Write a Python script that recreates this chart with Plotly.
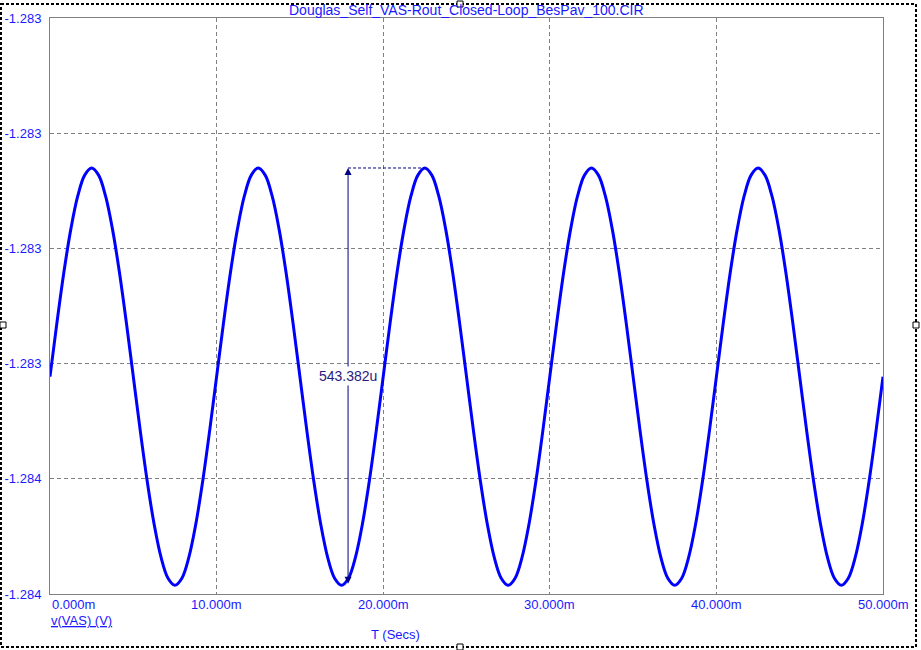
import plotly.graph_objects as go

# ---- data ----
# v(VAS) sampled at 121 points over 0..50 ms (volts)
v_vas = [
    -1.2834670, -1.2833967, -1.2833311, -1.2832749, -1.2832317, -1.2832046, -1.2831953, -1.2832046,
    -1.2832317, -1.2832749, -1.2833311, -1.2833967, -1.2834670, -1.2835373, -1.2836029, -1.2836591,
    -1.2837023, -1.2837294, -1.2837387, -1.2837294, -1.2837023, -1.2836591, -1.2836029, -1.2835373,
    -1.2834670, -1.2833967, -1.2833311, -1.2832749, -1.2832317, -1.2832046, -1.2831953, -1.2832046,
    -1.2832317, -1.2832749, -1.2833311, -1.2833967, -1.2834670, -1.2835373, -1.2836029, -1.2836591,
    -1.2837023, -1.2837294, -1.2837387, -1.2837294, -1.2837023, -1.2836591, -1.2836029, -1.2835373,
    -1.2834670, -1.2833967, -1.2833311, -1.2832749, -1.2832317, -1.2832046, -1.2831953, -1.2832046,
    -1.2832317, -1.2832749, -1.2833311, -1.2833967, -1.2834670, -1.2835373, -1.2836029, -1.2836591,
    -1.2837023, -1.2837294, -1.2837387, -1.2837294, -1.2837023, -1.2836591, -1.2836029, -1.2835373,
    -1.2834670, -1.2833967, -1.2833311, -1.2832749, -1.2832317, -1.2832046, -1.2831953, -1.2832046,
    -1.2832317, -1.2832749, -1.2833311, -1.2833967, -1.2834670, -1.2835373, -1.2836029, -1.2836591,
    -1.2837023, -1.2837294, -1.2837387, -1.2837294, -1.2837023, -1.2836591, -1.2836029, -1.2835373,
    -1.2834670, -1.2833967, -1.2833311, -1.2832749, -1.2832317, -1.2832046, -1.2831953, -1.2832046,
    -1.2832317, -1.2832749, -1.2833311, -1.2833967, -1.2834670, -1.2835373, -1.2836029, -1.2836591,
    -1.2837023, -1.2837294, -1.2837387, -1.2837294, -1.2837023, -1.2836591, -1.2836029, -1.2835373,
    -1.2834670,
]
t_end = 0.05
t_sec = [i * t_end / (len(v_vas) - 1) for i in range(len(v_vas))]

x_tick_vals = [0.0, 0.01, 0.02, 0.03, 0.04, 0.05]
x_tick_text = ["0.000m", "10.000m", "20.000m", "30.000m", "40.000m", "50.000m"]
y_tick_vals = [-1.28375, -1.2836, -1.28345, -1.2833, -1.28315, -1.283]
y_tick_text = ["-1.284", "-1.284", "-1.283", "-1.283", "-1.283", "-1.283"]

cursor_t = 0.01789
cursor_top = -1.2831953
cursor_bottom = -1.2837387
peak_t = 0.0225
cursor_label = "543.382u"

title_text = "Douglas_Self_VAS-Rout_Closed-Loop_BesPav_100.CIR"
y_name = "v(VAS) (V)"
x_name = "T (Secs)"

# ---- layout geometry ----
W, H = 921, 650
L, R, T, B = 50, 883, 18, 594
FONT = "Liberation Sans, Arial, sans-serif"
FS = 14
FST = 13
BLUE = "#1a1aff"
NAVY = "#000080"


def px(xp):
    return (xp - L) / (R - L)


def py(yp):
    return (B - yp) / (B - T)


fig = go.Figure()
fig.add_trace(go.Scatter(
    x=t_sec, y=v_vas, mode="lines",
    line=dict(color="#0000ff", width=3, shape="spline", smoothing=1),
    showlegend=False, hoverinfo="skip",
))

shapes = []
# cursor dashed horizontal to the peak
shapes.append(dict(type="line", xref="x", yref="y", x0=cursor_t, x1=peak_t,
                   y0=cursor_top, y1=cursor_top,
                   line=dict(color=NAVY, width=1, dash="3px,2px")))
# outer dashed border
shapes.append(dict(type="rect", xref="paper", yref="paper",
                   x0=px(1), x1=px(916), y0=py(4), y1=py(647),
                   line=dict(color="black", width=2, dash="3px,2px"), layer="above"))
# handles
for hx, hy in [(460, 4), (3, 325), (916, 325), (460, 647)]:
    shapes.append(dict(type="rect", xref="paper", yref="paper",
                       x0=px(hx - 3), x1=px(hx + 3), y0=py(hy - 3), y1=py(hy + 3),
                       fillcolor="white", line=dict(color="black", width=1), layer="above"))

annotations = []
# double headed arrow
annotations.append(dict(x=cursor_t, y=cursor_top, ax=cursor_t, ay=cursor_bottom,
                        xref="x", yref="y", axref="x", ayref="y", text="",
                        showarrow=True, arrowhead=2, startarrowhead=2, arrowside="end+start",
                        arrowsize=1.4, startarrowsize=1.4,
                        arrowwidth=1, arrowcolor=NAVY))
annotations.append(dict(x=cursor_t, y=-1.2834665, xref="x", yref="y", text=cursor_label,
                        showarrow=False, xanchor="center", yanchor="middle",
                        font=dict(family=FONT, size=FS, color="#2a1a80"),
                        bgcolor="white", borderpad=1))
# x tick labels
for v, s in zip(x_tick_vals, x_tick_text):
    annotations.append(dict(x=v, y=0, xref="x", yref="paper", text=s, showarrow=False,
                            xanchor="left" if v == 0 else "center", yanchor="top", yshift=-1,
                            font=dict(family=FONT, size=FST, color=BLUE)))
# title and axis names
annotations.append(dict(x=px(466), y=py(10), xref="paper", yref="paper", text=title_text,
                        showarrow=False, xanchor="center", yanchor="middle",
                        font=dict(family=FONT, size=FS, color=BLUE)))
annotations.append(dict(x=px(49), y=py(620), xref="paper", yref="paper", text="<u>" + y_name + "</u>",
                        showarrow=False, xanchor="left", yanchor="middle",
                        font=dict(family=FONT, size=FST, color=BLUE)))
annotations.append(dict(x=px(395), y=py(634), xref="paper", yref="paper", text=x_name,
                        showarrow=False, xanchor="center", yanchor="middle",
                        font=dict(family=FONT, size=FST, color=BLUE)))

fig.update_layout(
    width=W, height=H,
    margin=dict(l=L, r=W - R, t=T, b=H - B, pad=0, autoexpand=False),
    paper_bgcolor="white", plot_bgcolor="white",
    shapes=shapes, annotations=annotations,
    xaxis=dict(range=[0, 0.05], tickvals=x_tick_vals, showticklabels=False,
               showgrid=True, gridcolor="#808080", griddash="4px,3px", gridwidth=1,
               showline=True, linecolor="#808080", linewidth=1, mirror=True,
               zeroline=False, ticks="", automargin=False),
    yaxis=dict(range=[-1.28375, -1.283], tickvals=y_tick_vals, ticktext=y_tick_text,
               showgrid=True, gridcolor="#808080", griddash="4px,3px", gridwidth=1,
               showline=True, linecolor="#808080", linewidth=1, mirror=True,
               zeroline=False, ticks="", ticklabelstandoff=5, automargin=False,
               tickfont=dict(family=FONT, size=FST, color=BLUE)),
)

fig.write_html("out.html", config={"displayModeBar": False},
               post_script="document.body.style.margin='0';document.body.style.padding='0';")
